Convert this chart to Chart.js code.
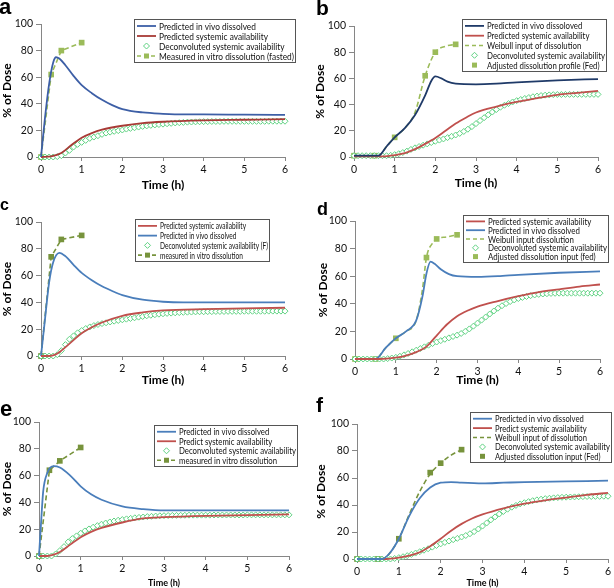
<!DOCTYPE html>
<html>
<head>
<meta charset="utf-8">
<script src="https://cdn.jsdelivr.net/npm/chart.js@4.4.1/dist/chart.umd.min.js"></script>
<style>
    body { margin: 0; background: #fff; }
    #page { position: relative; width: 614px; height: 588px; overflow: hidden; }
    canvas { position: absolute; }
    .lettre { position: absolute; font-family: "Liberation Sans", Arial, sans-serif; font-weight: bold; line-height: 1; color: #000; }
</style>
</head>
<body>
<div id="page">
    <canvas id="panneauA" width="305" height="196" style="left:0;top:0"></canvas>
    <canvas id="panneauB" width="309" height="196" style="left:305px;top:0"></canvas>
    <canvas id="panneauC" width="305" height="196" style="left:0;top:196px"></canvas>
    <canvas id="panneauD" width="309" height="196" style="left:305px;top:196px"></canvas>
    <canvas id="panneauE" width="305" height="196" style="left:0;top:392px"></canvas>
    <canvas id="panneauF" width="309" height="196" style="left:305px;top:392px"></canvas>
    <div class="lettre" style="left:-1px;top:-4px;font-size:22px">a</div>
    <div class="lettre" style="left:316px;top:-3px;font-size:21px">b</div>
    <div class="lettre" style="left:0;top:197px;font-size:16px">c</div>
    <div class="lettre" style="left:317px;top:200px;font-size:18px">d</div>
    <div class="lettre" style="left:0;top:398px;font-size:22px">e</div>
    <div class="lettre" style="left:316px;top:394px;font-size:21px">f</div>
</div>
<script>
// ============================================
// Données
// ============================================

// Temps des points déconvolués (h), pas de 0,1 h
var tempsDeconv = [0, 0.1, 0.2, 0.3, 0.4, 0.5, 0.6, 0.7, 0.8, 0.9,
    1, 1.1, 1.2, 1.3, 1.4, 1.5, 1.6, 1.7, 1.8, 1.9,
    2, 2.1, 2.2, 2.3, 2.4, 2.5, 2.6, 2.7, 2.8, 2.9,
    3, 3.1, 3.2, 3.3, 3.4, 3.5, 3.6, 3.7, 3.8, 3.9,
    4, 4.1, 4.2, 4.3, 4.4, 4.5, 4.6, 4.7, 4.8, 4.9,
    5, 5.1, 5.2, 5.3, 5.4, 5.5, 5.6, 5.7, 5.8, 5.9, 6];

// Points de mesure de la dissolution in vitro (h)
var tempsVitro = [0, 0.25, 0.5, 1];
var tempsAjuste = [0, 0.5, 1, 1.75, 2, 2.5];

// --- Panneau a ---
var aTempsVivo = [0, 0.1, 0.2, 0.3, 0.37, 0.45, 0.6, 0.8, 1, 1.25, 1.5, 1.75, 2, 2.5, 3, 3.5, 4, 5, 6];
var aVivo = [0, 30, 55, 71, 75, 74, 69, 61, 54, 48, 43, 39, 36, 33.5, 32.5, 32, 32, 31.8, 31.7];
var aTempsSyst = [0, 0.25, 0.5, 0.75, 1, 1.25, 1.5, 2, 2.5, 3, 4, 5, 6];
var aSyst = [0, 0.5, 3, 9, 14.5, 18, 20.5, 23.5, 25.5, 26.5, 27.5, 28, 28.5];
var aDeconv = [0, 0, 0, 0, 0.3, 1, 3, 5, 7.5, 9.5,
    11, 12.5, 14, 15, 16, 17, 18, 18.7, 19.3, 19.8,
    20.3, 21, 21.5, 22, 22.5, 23, 23.4, 23.8, 24.1, 24.4,
    24.7, 25, 25.3, 25.6, 25.8, 26, 26.2, 26.3, 26.4, 26.5,
    26.6, 26.6, 26.7, 26.7, 26.7, 26.8, 26.8, 26.8, 26.8, 26.8,
    26.8, 26.8, 26.8, 26.8, 26.8, 26.8, 26.9, 26.9, 26.9, 26.9, 26.9];
var aVitro = [0, 62, 80, 86];

// --- Panneau b ---
var bTempsVivo = [0, 0.6, 0.8, 1, 1.25, 1.5, 1.75, 1.9, 2, 2.15, 2.3, 2.5, 3, 3.5, 4, 5, 6];
var bVivo = [1, 1, 8, 15, 22, 32, 47, 58, 61.5, 60, 57.5, 56, 55.5, 56, 57, 58.5, 59.5];
var bTempsSyst = [0, 0.75, 1, 1.25, 1.5, 1.75, 2, 2.25, 2.5, 2.75, 3, 3.5, 4, 4.5, 5, 5.5, 6];
var bSyst = [0.5, 0.5, 1.5, 3, 6, 10, 14.5, 20, 25.5, 30, 34, 38.5, 42, 45, 47.5, 49, 50.5];
var bTempsWeibull = [0, 0.5, 0.6, 0.8, 1, 1.25, 1.5, 1.75, 2, 2.25, 2.5];
var bWeibull = [1, 1, 1, 8, 15, 22, 34, 62, 80, 84.5, 86];
var bDeconv = [1, 1, 1, 1, 1, 1, 1, 1, 1, 1.3,
    1.8, 2.5, 3.4, 4.5, 5.8, 7, 8, 9, 10, 11,
    12, 12.9, 13.8, 14.8, 15.8, 16.8, 18, 19.5, 21.2, 23.2,
    25.5, 27.8, 30, 32.2, 34.3, 36.2, 38, 39.5, 40.8, 42,
    43, 43.9, 44.7, 45.4, 46, 46.5, 46.9, 47.2, 47.4, 47.6,
    47.7, 47.7, 47.8, 47.8, 47.8, 47.8, 47.8, 47.8, 47.8, 47.8, 47.8];
var bAjuste = [1, 1, 15, 62, 80, 86];

// --- Panneau c ---
var cTempsSyst = [0, 0.2, 0.35, 0.5, 0.75, 1, 1.25, 1.5, 2, 2.5, 3, 4, 5, 6];
var cSyst = [0, 0, 1, 4, 10.5, 17, 21.5, 25, 30, 32.5, 34, 35, 35.5, 36];
var cTempsVivo = [0, 0.1, 0.2, 0.3, 0.45, 0.6, 0.8, 1, 1.25, 1.5, 1.75, 2, 2.5, 3, 3.5, 4, 5, 6];
var cVivo = [0, 28, 55, 70, 77, 74.5, 68, 62, 56.5, 52, 48.5, 45.5, 42, 40.5, 40, 40, 40, 40];
var cDeconv = [0, 0, 0, 0, 1, 4, 8.5, 12.5, 15, 17.3,
    19, 20.5, 21.7, 22.7, 23.5, 24.2, 24.8, 25.4, 26, 26.5,
    27, 27.5, 28, 28.5, 29, 29.5, 30, 30.4, 30.8, 31.2,
    31.5, 31.8, 32, 32.2, 32.4, 32.6, 32.7, 32.8, 32.9, 33,
    33, 33.1, 33.1, 33.2, 33.2, 33.2, 33.3, 33.3, 33.3, 33.3,
    33.4, 33.4, 33.4, 33.4, 33.4, 33.4, 33.5, 33.5, 33.5, 33.5, 33.5];
var cVitro = [0, 74, 87, 90];

// --- Panneau d ---
var dTempsSyst = [0, 0.6, 1, 1.25, 1.5, 1.75, 2, 2.25, 2.5, 2.75, 3, 3.5, 4, 4.5, 5, 5.5, 6];
var dSyst = [0, 0, 1, 2.5, 5, 9, 17, 25, 31, 35, 38, 42, 45.5, 48.5, 50.5, 52.5, 54];
var dTempsVivo = [0, 0.5, 0.75, 1, 1.25, 1.5, 1.65, 1.75, 1.85, 1.95, 2.1, 2.3, 2.5, 3, 3.5, 4, 5, 6];
var dVivo = [0, 0, 8, 15, 20, 28, 45, 62, 70.5, 69, 65, 61.5, 60, 59.5, 60, 61, 62.5, 63.5];
var dTempsWeibull = [0, 0.5, 0.75, 1, 1.25, 1.5, 1.65, 1.75, 1.9, 2, 2.25, 2.5];
var dWeibull = [0, 0, 8, 15, 20, 28, 50, 73.5, 84, 87, 88.5, 90];
var dDeconv = [0, 0, 0, 0, 0, 0, 0, 0, 0.3, 0.7,
    1.2, 2, 3, 4, 5.2, 6.4, 7.6, 8.8, 10, 11.2,
    12.3, 13.3, 14.3, 15.3, 16.3, 17.3, 18.5, 20, 21.8, 23.8,
    26, 28.2, 30.4, 32.6, 34.8, 36.8, 38.6, 40.2, 41.6, 42.8,
    43.8, 44.6, 45.3, 45.9, 46.4, 46.8, 47.1, 47.3, 47.5, 47.6,
    47.7, 47.7, 47.7, 47.7, 47.7, 47.7, 47.7, 47.7, 47.7, 47.7, 47.7];
var dAjuste = [0, 0, 15, 73.5, 87, 90];

// --- Panneau e ---
var eTempsVivo = [0, 0.05, 0.1, 0.2, 0.35, 0.5, 0.75, 1, 1.25, 1.5, 2, 2.5, 3, 4, 5, 6];
var eVivo = [0, 25, 48, 62, 67, 66, 60, 52, 46, 42, 37, 35, 34, 34, 34, 34];
var eTempsSyst = [0, 0.2, 0.35, 0.5, 0.75, 1, 1.25, 1.5, 2, 2.5, 3, 4, 5, 6];
var eSyst = [0, 0, 1, 3, 8.5, 14, 18, 21, 25, 28, 29, 30, 30.5, 31];
var eDeconv = [0, 0, 0, 0, 1.5, 4, 7, 10.5, 13, 15,
    17, 18.7, 20.2, 21.5, 22.7, 23.7, 24.6, 25.4, 26.1, 26.7,
    27.2, 27.7, 28.1, 28.5, 28.8, 29.1, 29.4, 29.6, 29.8, 30,
    30.1, 30.2, 30.3, 30.3, 30.4, 30.4, 30.5, 30.5, 30.5, 30.5,
    30.5, 30.5, 30.6, 30.6, 30.6, 30.6, 30.6, 30.6, 30.6, 30.6,
    30.7, 30.7, 30.7, 30.7, 30.7, 30.7, 30.7, 30.7, 30.7, 30.7, 30.7];
var eVitro = [0, 64, 71, 81];

// --- Panneau f ---
var fTempsVivo = [0, 0.6, 0.8, 1, 1.25, 1.5, 1.75, 2, 2.25, 2.5, 3, 3.5, 4, 5, 6];
var fVivo = [0, 0, 5, 15, 32, 45, 53, 56.5, 57, 56.5, 56, 56.5, 57, 57.5, 58];
var fTempsSyst = [0, 0.7, 1, 1.25, 1.5, 1.75, 2, 2.25, 2.5, 2.75, 3, 3.5, 4, 4.5, 5, 5.5, 6];
var fSyst = [0, 0, 1, 2.5, 5, 9.5, 15, 21, 26, 30, 33, 37.5, 41, 43.5, 45.5, 47.5, 49];
var fTempsWeibull = [0, 0.5, 0.65, 0.8, 1, 1.25, 1.5, 1.75, 2, 2.25, 2.5];
var fWeibull = [0, 0, 0.5, 5, 15, 33, 50, 63, 71, 77, 81];
var fDeconv = [0, 0, 0, 0, 0, 0, 0, 0, 0, 0.4,
    1, 1.7, 2.5, 3.4, 4.4, 5.4, 6.5, 7.6, 8.8, 10,
    11.2, 12.3, 13.3, 14.3, 15.3, 16.3, 17.4, 18.7, 20.3, 22.2,
    24.4, 26.7, 29, 31.2, 33.3, 35.2, 36.9, 38.4, 39.7, 40.8,
    41.7, 42.5, 43.2, 43.8, 44.3, 44.7, 45, 45.3, 45.5, 45.7,
    45.8, 45.9, 46, 46.1, 46.2, 46.3, 46.3, 46.4, 46.4, 46.5, 46.5];
var fAjuste = [0, 0, 15, 64, 71, 81];

// ============================================
// Couleurs
// ============================================
var BLEU = "#4a7ebb";
var ROUGE = "#c0504d";
var VERT_CLAIR = "#9bbb59";
var VERT_OLIVE = "#77933c";
var VERT_LOSANGE = "#5fd282";
var AXE = "#868686";

Chart.defaults.font.family = "Lato, 'Open Sans', sans-serif";
Chart.defaults.color = "#111";

// ============================================
// Construction des jeux de données
// ============================================
function points(temps, valeurs) {
    return temps.map(function (t, i) {
        return { x: t, y: valeurs[i] };
    });
}

function courbe(label, temps, valeurs, couleur) {
    return {
        label: label, symbole: "ligne",
        data: points(temps, valeurs),
        borderColor: couleur, borderWidth: 1.8,
        pointRadius: 0, cubicInterpolationMode: "monotone", fill: false, clip: false
    };
}

function tirets(label, temps, valeurs, couleur, avecCarres) {
    return {
        label: label, symbole: avecCarres ? "tiretsCarre" : "tirets",
        data: points(temps, valeurs),
        borderColor: couleur, borderWidth: 1.6, borderDash: [5, 3],
        pointStyle: "rect", pointRadius: avecCarres ? 4 : 0,
        pointBackgroundColor: couleur, pointBorderWidth: 0,
        tension: 0, cubicInterpolationMode: avecCarres ? "default" : "monotone",
        fill: false, clip: false
    };
}

function losanges(label, valeurs) {
    return {
        label: label, symbole: "losange",
        data: points(tempsDeconv, valeurs),
        showLine: false, borderColor: VERT_LOSANGE,
        pointStyle: "rectRot", pointRadius: 3,
        pointBorderColor: VERT_LOSANGE, pointBorderWidth: 1, pointBackgroundColor: "#fff",
        clip: false
    };
}

function carres(label, temps, valeurs, couleur) {
    return {
        label: label, symbole: "carre",
        data: points(temps, valeurs),
        showLine: false, borderColor: couleur,
        pointStyle: "rect", pointRadius: 4,
        pointBackgroundColor: couleur, pointBorderWidth: 0, clip: false
    };
}

// ============================================
// Légende encadrée dans la zone du graphique
// ============================================
function dessinerSymbole(ctx, ds, x0, x1, cy) {
    var xm = (x0 + x1) / 2;
    if (ds.symbole === "ligne" || ds.symbole === "tirets" || ds.symbole === "tiretsCarre") {
        ctx.strokeStyle = ds.borderColor;
        ctx.lineWidth = ds.borderWidth;
        ctx.setLineDash(ds.symbole === "ligne" ? [] : [4, 3]);
        ctx.beginPath();
        ctx.moveTo(x0, cy);
        ctx.lineTo(x1, cy);
        ctx.stroke();
        ctx.setLineDash([]);
    }
    if (ds.symbole === "tiretsCarre" || ds.symbole === "carre") {
        ctx.fillStyle = ds.pointBackgroundColor;
        ctx.fillRect(xm - 2.5, cy - 2.5, 5, 5);
    }
    if (ds.symbole === "losange") {
        ctx.strokeStyle = ds.pointBorderColor;
        ctx.lineWidth = 1;
        ctx.beginPath();
        ctx.moveTo(xm, cy - 3);
        ctx.lineTo(xm + 3, cy);
        ctx.lineTo(xm, cy + 3);
        ctx.lineTo(xm - 3, cy);
        ctx.closePath();
        ctx.stroke();
    }
}

var legendeEncadree = {
    id: "legendeEncadree",
    afterDraw: function (chart, args, opts) {
        var ctx = chart.ctx;
        var jeux = chart.data.datasets;
        ctx.save();
        ctx.fillStyle = "#fff";
        ctx.fillRect(opts.x, opts.y, opts.w, opts.h);
        ctx.strokeStyle = "#555";
        ctx.lineWidth = 1;
        ctx.strokeRect(opts.x + 0.5, opts.y + 0.5, opts.w - 1, opts.h - 1);

        ctx.font = opts.taille + "px Lato, 'Open Sans', sans-serif";
        var largeurMax = 0;
        jeux.forEach(function (ds) {
            largeurMax = Math.max(largeurMax, ctx.measureText(ds.label).width);
        });
        var xTexte = opts.x + 25;
        var dispo = opts.w - 27;
        var k = Math.min(1, dispo / largeurMax);

        var pas = (opts.h - 4) / jeux.length;
        jeux.forEach(function (ds, i) {
            var cy = opts.y + 2 + pas * (i + 0.5);
            dessinerSymbole(ctx, ds, opts.x + 3, opts.x + 22, cy);
            ctx.save();
            ctx.translate(xTexte, cy);
            ctx.scale(k, 1);
            ctx.fillStyle = "#111";
            ctx.textBaseline = "middle";
            ctx.fillText(ds.label, 0, 0.5);
            ctx.restore();
        });
        ctx.restore();
    }
};

// ============================================
// Création d'un panneau
// ============================================
function creerPanneau(idCanvas, zone, jeux, legende) {
    var canvas = document.getElementById(idCanvas);
    var policeTicks = { size: 10.5 };
    new Chart(canvas.getContext("2d"), {
        type: "line",
        data: { datasets: jeux },
        options: {
            responsive: false,
            animation: false,
            events: [],
            layout: { padding: { left: 0, top: zone.haut, right: canvas.width - zone.droite, bottom: 0 } },
            plugins: {
                legend: { display: false },
                tooltip: { enabled: false },
                legendeEncadree: legende
            },
            scales: {
                x: {
                    type: "linear", min: 0, max: 6,
                    ticks: { stepSize: 1, font: policeTicks, padding: 2, maxRotation: 0 },
                    grid: { drawOnChartArea: false, tickLength: 4, color: AXE },
                    border: { color: AXE },
                    title: {
                        display: true, text: "Time (h)", color: "#000",
                        font: { size: zone.tailleTitreX || 12, weight: "bold", lineHeight: 1.2 },
                        padding: zone.padTitreX
                    },
                    afterFit: function (s) { s.height = canvas.height - zone.bas; }
                },
                y: {
                    min: 0, max: 100,
                    ticks: { stepSize: 20, font: policeTicks, padding: 3 },
                    grid: { drawOnChartArea: false, tickLength: 5, color: AXE },
                    border: { color: AXE },
                    title: {
                        display: true, text: "% of Dose", color: "#000",
                        font: { size: 12, weight: "bold", lineHeight: 1.2 },
                        padding: zone.padTitreY
                    },
                    afterFit: function (s) { s.width = zone.gauche; }
                }
            }
        },
        plugins: [legendeEncadree]
    });
}

// ============================================
// Les six panneaux
// ============================================
creerPanneau("panneauA",
    { gauche: 41, haut: 24, droite: 285, bas: 157, padTitreY: 0, padTitreX: 4 },
    [
        courbe("Predicted in vivo dissolved", aTempsVivo, aVivo, "#3d5fa6"),
        courbe("Predicted systemic availability", aTempsSyst, aSyst, "#a83a36"),
        losanges("Deconvoluted systemic availability", aDeconv),
        tirets("Measured in vitro dissolution (fasted)", tempsVitro, aVitro, VERT_CLAIR, true)
    ],
    { x: 134, y: 19, w: 162, h: 44, taille: 9.5 });

creerPanneau("panneauB",
    { gauche: 49, haut: 26, droite: 293, bas: 157, padTitreY: 8, padTitreX: 6 },
    [
        courbe("Predicted in vivo dissoloved", bTempsVivo, bVivo, "#1f3a68"),
        courbe("Predicted systemic availability", bTempsSyst, bSyst, ROUGE),
        tirets("Weibull input of dissolution", bTempsWeibull, bWeibull, VERT_CLAIR, false),
        losanges("Deconvoluted systemic availability", bDeconv),
        carres("Adjusted dissolution profile (Fed)", tempsAjuste, bAjuste, VERT_CLAIR)
    ],
    { x: 157, y: 19, w: 145, h: 53, taille: 9.5 });

creerPanneau("panneauC",
    { gauche: 41, haut: 26, droite: 285, bas: 160, padTitreY: 0, padTitreX: 5 },
    [
        courbe("Predicted systemic availability", cTempsSyst, cSyst, ROUGE),
        courbe("Predicted in vivo dissolved", cTempsVivo, cVivo, BLEU),
        losanges("Deconvoluted systemic availability (F)", cDeconv),
        tirets("measured in vitro dissolution", tempsVitro, cVitro, VERT_OLIVE, true)
    ],
    { x: 135, y: 23, w: 135, h: 43, taille: 9.5 });

creerPanneau("panneauD",
    { gauche: 50, haut: 25, droite: 295, bas: 163, padTitreY: 11, padTitreX: 5 },
    [
        courbe("Predicted systemic availability", dTempsSyst, dSyst, ROUGE),
        courbe("Predicted in vivo dissolved", dTempsVivo, dVivo, BLEU),
        tirets("Weibull input dissolution", dTempsWeibull, dWeibull, VERT_CLAIR, false),
        losanges("Deconvoluted systemic availability", dDeconv),
        carres("Adjusted dissolution input (fed)", tempsAjuste, dAjuste, VERT_CLAIR)
    ],
    { x: 158, y: 19, w: 146, h: 48, taille: 9.5 });

creerPanneau("panneauE",
    { gauche: 39, haut: 30, droite: 289, bas: 164, padTitreY: 0, padTitreX: 0, tailleTitreX: 9 },
    [
        courbe("Predicted in vivo dissolved", eTempsVivo, eVivo, BLEU),
        courbe("Predict systemic availability", eTempsSyst, eSyst, ROUGE),
        losanges("Deconvoluted systemic availability", eDeconv),
        tirets("measured in vitro dissolution", tempsVitro, eVitro, VERT_OLIVE, true)
    ],
    { x: 154, y: 33, w: 144, h: 42, taille: 9.5 });

creerPanneau("panneauF",
    { gauche: 52, haut: 32, droite: 303, bas: 167, padTitreY: 9, padTitreX: 0, tailleTitreX: 9 },
    [
        courbe("Predicted in vivo dissolved", fTempsVivo, fVivo, BLEU),
        courbe("Predict systemic availability", fTempsSyst, fSyst, ROUGE),
        tirets("Weibull input of dissolution", fTempsWeibull, fWeibull, VERT_OLIVE, false),
        losanges("Deconvoluted systemic availability", fDeconv),
        carres("Adjusted dissolution input (Fed)", tempsAjuste, fAjuste, VERT_OLIVE)
    ],
    { x: 165, y: 20, w: 142, h: 51, taille: 9.5 });
</script>
</body>
</html>
